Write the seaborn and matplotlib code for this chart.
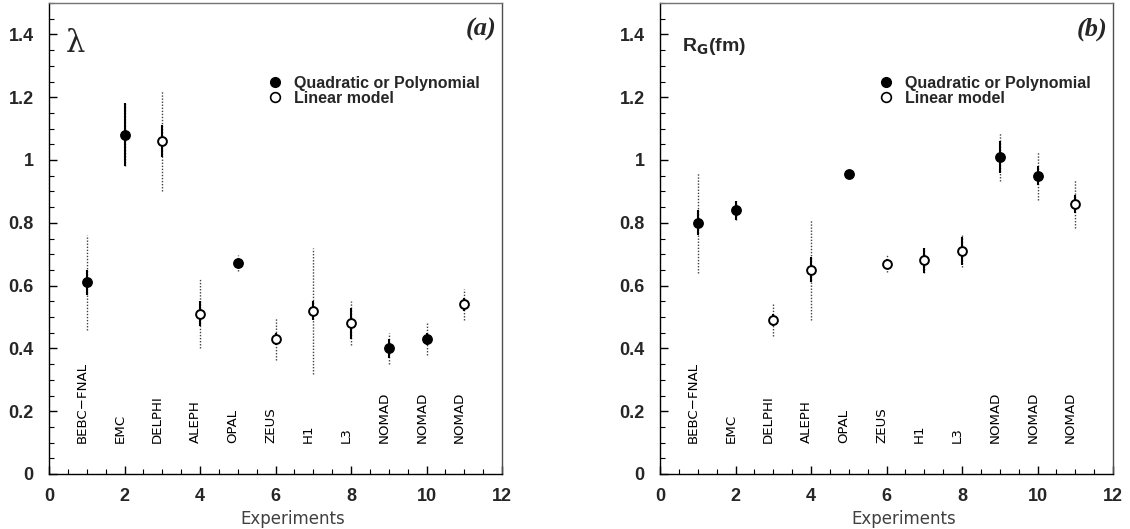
import numpy as np
import pandas as pd
import seaborn as sns
import matplotlib.pyplot as plt
from matplotlib.lines import Line2D
from matplotlib.ticker import MultipleLocator

experiments = ['BEBC\u2212FNAL', 'EMC', 'DELPHI', 'ALEPH', 'OPAL', 'ZEUS', 'H1', 'L3',
               'NOMAD', 'NOMAD', 'NOMAD']
exp_index = [1, 2, 3, 4, 5, 6, 7, 8, 9, 10, 11]

# lambda (panel a)
lam = [0.61, 1.08, 1.06, 0.51, 0.672, 0.43, 0.52, 0.48, 0.40, 0.43, 0.54]
lam_stat = [0.04, 0.10, 0.05, 0.04, 0.01, 0.02, 0.03, 0.05, 0.03, 0.02, 0.02]
lam_tot = [0.15, 0.10, 0.16, 0.11, 0.024, 0.068, 0.20, 0.07, 0.05, 0.05, 0.048]
lam_quad = [True, True, False, False, True, False, False, False, True, True, False]

# R_G in fm (panel b)
rg = [0.80, 0.84, 0.49, 0.65, 0.955, 0.67, 0.68, 0.71, 1.01, 0.95, 0.86]
rg_stat = [0.04, 0.03, 0.02, 0.04, 0.01, 0.015, 0.04, 0.045, 0.05, 0.03, 0.028]
rg_tot = [0.16, 0.03, 0.05, 0.16, 0.012, 0.028, 0.04, 0.05, 0.076, 0.076, 0.077]
rg_quad = [True, True, False, False, True, False, False, False, True, True, False]

sns.set_style('ticks')
plt.rcParams['font.family'] = ['Liberation Sans', 'DejaVu Sans']

fig = plt.figure(figsize=(11.3, 5.29), dpi=100)
ax_a = fig.add_axes([49 / 1130, 1 - 474 / 529, 453 / 1130, 471 / 529])
ax_b = fig.add_axes([660 / 1130, 1 - 474 / 529, 453 / 1130, 471 / 529])


def draw_panel(ax, vals, stat, tot, quad, tag, ylabel_txt, ylabel_kw):
    df = pd.DataFrame({'x': exp_index, 'y': vals, 'stat': stat, 'tot': tot, 'quad': quad})
    ax.vlines(df['x'], df['y'] - df['tot'], df['y'] + df['tot'],
              colors='0.25', linestyles=(0, (1, 1.2)), lw=1.0, zorder=2)
    ax.vlines(df['x'], df['y'] - df['stat'], df['y'] + df['stat'],
              colors='black', lw=1.5, zorder=3)
    sns.scatterplot(data=df[df['quad']], x='x', y='y', ax=ax, s=46,
                    color='black', edgecolor='black', linewidth=1.0, zorder=4, legend=False)
    sns.scatterplot(data=df[~df['quad']], x='x', y='y', ax=ax, s=40,
                    facecolor='white', edgecolor='black', linewidth=1.4, zorder=4, legend=False)

    ax.set_xlim(0, 12)
    ax.set_ylim(0, 1.5)
    ax.xaxis.set_major_locator(MultipleLocator(2))
    ax.xaxis.set_minor_locator(MultipleLocator(0.5))
    ax.yaxis.set_major_locator(MultipleLocator(0.2))
    ax.yaxis.set_minor_locator(MultipleLocator(0.05))
    ax.set_yticks([0, 0.2, 0.4, 0.6, 0.8, 1.0, 1.2, 1.4])
    ax.set_yticklabels(['0', '0.2', '0.4', '0.6', '0.8', '1', '1.2', '1.4'])
    ax.tick_params(which='both', direction='in', top=False, right=False, color='black')
    ax.tick_params(which='major', length=6, width=1.0)
    ax.tick_params(which='minor', length=3.5, width=0.8)
    ax.tick_params(axis='x', which='major', pad=10)
    ax.tick_params(axis='y', which='major', pad=11)
    for lab in ax.get_xticklabels() + ax.get_yticklabels():
        lab.set_fontweight('bold')
        lab.set_fontsize(13)
    for sp in ax.spines.values():
        sp.set_visible(True)
        sp.set_color('black')
        sp.set_linewidth(1.0)
    ax.spines['top'].set_color('0.45')
    ax.spines['right'].set_color('0.3')

    ax.set_xlabel('Experiments', family='DejaVu Sans', fontsize=12, color='0.25')
    ax.xaxis.set_label_coords(0.539, -0.077)
    ax.set_ylabel('')

    for xi, name in zip(exp_index, experiments):
        ax.text(xi + 0.05, 0.10, name, rotation=90, ha='right', va='bottom',
                family='DejaVu Sans', fontsize=9.6, color='black')

    ax.text(11.85, 1.417, tag, ha='right', va='center', family='Liberation Serif',
            fontsize=19, fontweight='bold', fontstyle='italic')
    ax.text(s=ylabel_txt, **ylabel_kw)

    handles = [Line2D([], [], marker='o', ls='none', color='black', markersize=7),
               Line2D([], [], marker='o', ls='none', markerfacecolor='white',
                      markeredgecolor='black', markeredgewidth=1.2, markersize=7)]
    ax.legend(handles, ['Quadratic or Polynomial', 'Linear model'], loc='center left',
              bbox_to_anchor=(0.481, 0.814), frameon=False, handlelength=1.0,
              handletextpad=0.7, labelspacing=0.0, borderpad=0, borderaxespad=0,
              prop={'family': 'Liberation Sans', 'weight': 'bold', 'size': 11.5})


draw_panel(ax_a, lam, lam_stat, lam_tot, lam_quad, '(a)', '\u03bb',
           dict(x=0.69, y=1.372, ha='center', va='center', family='DejaVu Serif', fontsize=22))
draw_panel(ax_b, rg, rg_stat, rg_tot, rg_quad, '(b)', 'R$_\\mathbf{G}$(fm)',
           dict(x=0.58, y=1.36, ha='left', va='center', fontsize=14, fontweight='bold'))

fig.savefig('out.png', dpi=100)
